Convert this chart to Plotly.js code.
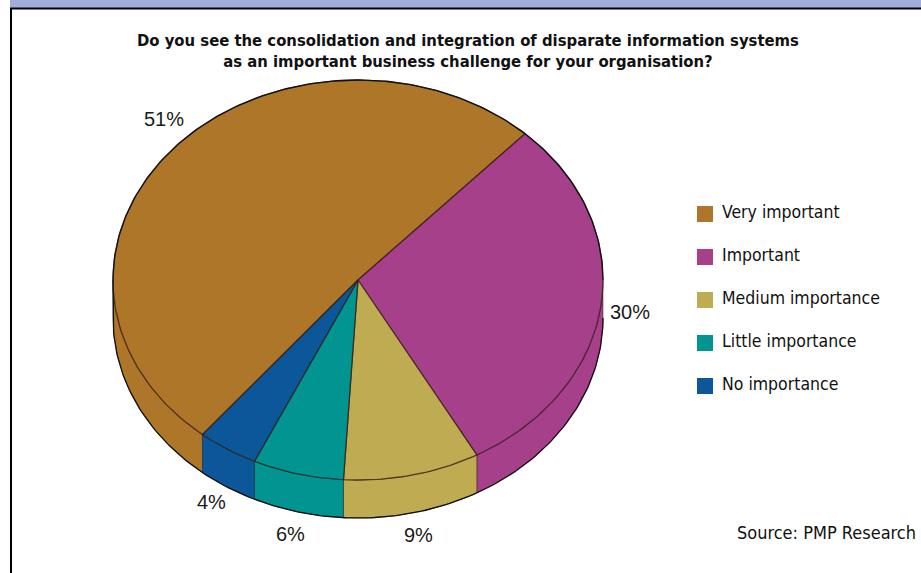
<!DOCTYPE html>
<html>
<head>
<meta charset="utf-8">
<script src="https://cdn.plot.ly/plotly-3.0.1.min.js"></script>
<style>html,body{margin:0;padding:0;background:#fff;}#chart{width:921px;height:573px;}</style>
</head>
<body>
<div id="chart"></div>
<script>
// ---- data ----
const categories = ['Very important', 'Important', 'Medium importance', 'Little importance', 'No importance'];
const values = [51, 30, 9, 6, 4];
const valueLabels = ['51%', '30%', '9%', '6%', '4%'];
const colors = ['#ad7629', '#a6408b', '#bfab51', '#019490', '#0c5799'];
const titleText = '<b>Do you see the consolidation and integration of disparate information systems<br>as an important business challenge for your organisation?</b>';
const sourceText = 'Source: PMP Research';

// ---- geometry of the tilted pie (unit radius, squashed) ----
const W = 921, H = 573;
const cxPx = 358, cyPx = 280, rPx = 245;     // centre and horizontal radius in px
const k = 200 / 245;                          // vertical squash
const depth = 38 / 245;                       // wall height
const startDeg = 230.6;                       // first slice starts here, clockwise
const narrow = '"Liberation Sans Narrow", "DejaVu Sans Condensed", "Arial Narrow", sans-serif';

const total = values.reduce((a, b) => a + b, 0);
const rad = d => d * Math.PI / 180;
const topPt = t => [Math.cos(rad(t)), k * Math.sin(rad(t))];

const traces = [];
const faces = [];
const annotations = [];
let a0 = startDeg;
values.forEach((v, i) => {
  const a1 = a0 - v / total * 360;
  // top face
  const xs = [0], ys = [0];
  const n = Math.max(4, Math.ceil((a0 - a1)));
  for (let j = 0; j <= n; j++) {
    const t = a0 - (a0 - a1) * j / n;
    const p = topPt(t); xs.push(p[0]); ys.push(p[1]);
  }
  xs.push(0); ys.push(0);
  faces.push({
    type: 'scatter', mode: 'lines', x: xs, y: ys, fill: 'toself',
    fillcolor: colors[i], line: {color: 'rgba(50,25,20,0.75)', width: 1.3},
    hoverinfo: 'skip', showlegend: false
  });
  // front wall: portion of arc with angle in (-180, 0) modulo 360
  for (let s = -2; s <= 2; s++) {
    const lo = -180 + s * 360, hi = 0 + s * 360;
    const wHi = Math.min(a0, hi), wLo = Math.max(a1, lo);
    if (wHi > wLo) {
      const wx = [], wy = [];
      const m = Math.max(3, Math.ceil(wHi - wLo));
      for (let j = 0; j <= m; j++) {
        const t = wHi - (wHi - wLo) * j / m;
        const p = topPt(t); wx.push(p[0]); wy.push(p[1]);
      }
      for (let j = m; j >= 0; j--) {
        const t = wHi - (wHi - wLo) * j / m;
        const p = topPt(t); wx.push(p[0]); wy.push(p[1] - depth);
      }
      wx.push(wx[0]); wy.push(wy[0]);
      traces.push({
        type: 'scatter', mode: 'lines', x: wx, y: wy, fill: 'toself',
        fillcolor: colors[i], line: {color: 'rgba(40,30,20,0.5)', width: 1},
        hoverinfo: 'skip', showlegend: false
      });
    }
  }
  // value label, placed outside the rim (lower ones below the wall)
  const mid = (a0 + a1) / 2;
  const sn = Math.sin(rad(mid));
  const up = Math.max(0, sn);
  annotations.push({
    x: (1.12 - 0.1 * up) * Math.cos(rad(mid)),
    y: (1.12 + 0.15 * up) * k * sn - depth * Math.max(0, -sn),
    xref: 'x', yref: 'y', text: valueLabels[i], showarrow: false,
    font: {family: '"Liberation Sans", Arial, sans-serif', size: 20, color: '#1a1a1a'}
  });
  a0 = a1;
});

// outer outline (top rim back half + bottom edge)
const ox = [], oy = [];
for (let t = 0; t <= 180; t++) { const p = topPt(t); ox.push(p[0]); oy.push(p[1]); }
for (let t = 180; t <= 360; t++) { const p = topPt(t); ox.push(p[0]); oy.push(p[1] - depth); }
ox.push(ox[0]); oy.push(oy[0] - depth);
const outline = {type: 'scatter', mode: 'lines', x: ox, y: oy,
  line: {color: '#111', width: 1.3}, hoverinfo: 'skip', showlegend: false};

// legend drawn from the category arrays on a second axis pair (row index)
const legendMarkers = {
  type: 'scatter', mode: 'markers', xaxis: 'x2', yaxis: 'y2',
  x: categories.map(() => 705), y: categories.map((c, i) => i),
  marker: {symbol: 'square', size: 16, color: colors, line: {width: 0}},
  hoverinfo: 'skip', showlegend: false
};
const legendText = {
  type: 'scatter', mode: 'text', xaxis: 'x2', yaxis: 'y2',
  x: categories.map(() => 722), y: categories.map((c, i) => i),
  text: categories, textposition: 'middle right',
  textfont: {family: narrow, size: 17.5, color: '#111'},
  hoverinfo: 'skip', showlegend: false
};

const layout = {
  width: W, height: H,
  margin: {l: 0, r: 0, t: 0, b: 0},
  paper_bgcolor: '#fff', plot_bgcolor: '#fff',
  showlegend: false,
  xaxis: {range: [-cxPx / rPx, (W - cxPx) / rPx], visible: false, fixedrange: true},
  yaxis: {range: [(cyPx - H) / rPx, cyPx / rPx], visible: false, fixedrange: true},
  xaxis2: {range: [0, W], overlaying: 'x', visible: false, fixedrange: true},
  yaxis2: {range: [(H - 214) / 43, -214 / 43], overlaying: 'y', visible: false, fixedrange: true},
  annotations: annotations.concat([
    {
      xref: 'paper', yref: 'paper', x: 468 / W, y: 1 - 51 / H, xanchor: 'center', yanchor: 'middle',
      text: titleText, showarrow: false, align: 'center',
      font: {family: narrow, size: 16.5, color: '#111'}
    },
    {
      xref: 'paper', yref: 'paper', x: 918 / W, y: 1 - 532 / H, xanchor: 'right', yanchor: 'middle',
      text: sourceText, showarrow: false, font: {family: narrow, size: 18, color: '#111'}
    }
  ]),
  shapes: [
    {type: 'rect', xref: 'paper', yref: 'paper', x0: 10 / W, x1: 1, y0: 1, y1: 1 - 8 / H,
      fillcolor: '#a3aed8', line: {width: 0}, layer: 'below'},
    {type: 'line', xref: 'paper', yref: 'paper', x0: 10 / W, x1: 1, y0: 1 - 8.5 / H, y1: 1 - 8.5 / H,
      line: {color: '#000', width: 2}},
    {type: 'line', xref: 'paper', yref: 'paper', x0: 11 / W, x1: 11 / W, y0: 1 - 8 / H, y1: 0,
      line: {color: '#000', width: 2}}
  ]
};

Plotly.newPlot('chart', traces.concat(faces, [outline, legendMarkers, legendText]), layout,
  {displayModeBar: false, staticPlot: true});
</script>
</body>
</html>
